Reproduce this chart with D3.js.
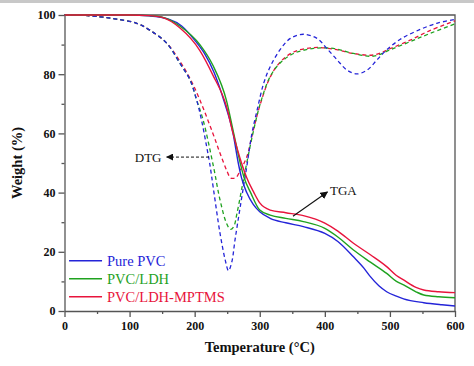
<!DOCTYPE html>
<html>
<head>
<script src="https://d3js.org/d3.v7.min.js"></script>
<style>
  body { margin: 0; background: #fff; }
  .axis text { font-family: "Liberation Serif", serif; font-weight: bold; font-size: 12px; fill: #111; }
  .axis path, .axis line { stroke: #555; stroke-width: 1.3px; }
</style>
</head>
<body>
<svg width="474" height="366"></svg>
<script>
// TGA curves (weight % vs temperature)
var tgaPureT = [0,50,100,130,160,180,200,215,230,245,259,267,272,280,290,300,316,340,367,400,420,444,460,470,483,495,510,521,552,580,600];
var tgaPureW = [100,100,100,99.7,98.6,96.3,91.5,87,80.5,71,60,50,45,40,36,33.5,31.3,29.8,28.5,26.2,23.5,18.3,14.5,11.6,8.5,6.5,5,4.1,2.8,2.1,1.7];
var tgaLdhT = [0,50,100,130,150,177,208,228,249,260,270,276,286,300,316,340,367,400,420,444,470,495,510,521,540,552,575,600];
var tgaLdhW = [100,100,100,99.8,99.3,96.3,90,83,71,60,50,45,40,34.1,32.4,31.3,30.2,27.9,25,20.6,16.5,12.7,10,8.8,6.5,5.4,4.8,4.5];
var tgaMpT = [0,50,100,130,150,177,208,228,249,259,272,280,291,300,316,340,367,400,420,444,470,495,510,521,540,552,575,600];
var tgaMpW = [100,100,100,99.8,99.2,95.7,88,79.7,69,60,50,45,40,36.5,34.1,33.2,32.2,29.7,27,22.9,19,15,12,10.5,8,7.1,6.5,6.2];

// DTG curves (dashed)
var dtgPureT = [0,20,54,80,111,131,157,177,193,203,211,218,223,229,239,247,252,257,262,270,280,288,296,306,316,331,347,367,388,403,419,434,449,465,480,495,516,541,572,600];
var dtgPureW = [100,100,99.4,98.6,97.2,94.9,90.5,83.8,78,71.3,64,56,50,41,26.2,17.2,13.6,16.5,24,35.2,48.7,60,67.9,76.9,82.5,88.2,92.1,93.5,92.1,88.7,84.8,81.4,80.1,81.4,84.8,88.2,91.8,94.6,97.2,98.5];
var dtgLdhT = [0,20,54,80,111,131,157,177,193,203,213,229,239,249,255,260,265,272,280,290,301,316,331,352,383,413,444,475,500,531,562,600];
var dtgLdhW = [100,100,99.4,98.6,97.2,94.9,90.5,83.8,78,71.3,64.5,48.7,37.5,29.6,27.6,28.5,33,40.9,50,60.5,70.2,79.2,83.7,87,88.7,88.7,87,86.1,88.2,91,93.8,97];
var dtgMpT = [0,20,54,80,111,131,157,177,193,208,228,239,249,255,259,264,270,280,290,301,316,331,352,383,413,444,475,500,531,562,600];
var dtgMpW = [100,100,99.4,98.6,97.2,94.9,90.5,84.5,78.5,71.3,60,53.3,47.6,45,44.8,45.2,47.5,52,61,70,79,84,87.5,89,88.5,87,86.5,88.6,91.5,94.8,98];

var xTicks = [0,100,200,300,400,500,600];
var yTicks = [0,20,40,60,80,100];
var seriesNames = ["Pure PVC", "PVC/LDH", "PVC/LDH-MPTMS"];
var colors = ["#2424d8", "#1fa21f", "#e8143c"];

var svg = d3.select("svg"),
  margin = {top: 15, right: 19, bottom: 55, left: 64.5},
  width = +svg.attr("width") - margin.left - margin.right,
  height = +svg.attr("height") - margin.top - margin.bottom;

// light grey strip at top of the picture
svg.append("rect").attr("x", 0).attr("y", 0).attr("width", 474).attr("height", 3).attr("fill", "#c8c8c8");

var x = d3.scaleLinear().domain([0, 600]).range([0, width]),
  y = d3.scaleLinear().domain([0, 100]).range([height, 0]);

var g = svg.append("g").attr("transform", "translate(" + margin.left + "," + margin.top + ")");

// minor ticks
g.append("g").attr("class", "axis")
  .attr("transform", "translate(0," + height + ")")
  .call(d3.axisBottom(x).tickValues(d3.range(50, 600, 100)).tickSize(3).tickFormat(""))
  .select(".domain").remove();
g.append("g").attr("class", "axis")
  .call(d3.axisLeft(y).tickValues(d3.range(10, 100, 20)).tickSize(3).tickFormat(""))
  .select(".domain").remove();

g.append("g").attr("class", "axis")
  .attr("transform", "translate(0," + height + ")")
  .call(d3.axisBottom(x).tickValues(xTicks).tickSize(6).tickPadding(4).tickSizeOuter(0));
g.append("g").attr("class", "axis")
  .call(d3.axisLeft(y).tickValues(yTicks).tickSize(6).tickPadding(3).tickSizeOuter(0));

// frame top / right
g.append("path")
  .attr("d", "M0,0H" + width + "V" + height)
  .attr("fill", "none").attr("stroke", "#555").attr("stroke-width", 1.3);

function pairs(ts, ws) { return ts.map(function(t, i) { return [t, ws[i]]; }); }

var lineMono = d3.line().curve(d3.curveMonotoneX)
  .x(function(d) { return x(d[0]); }).y(function(d) { return y(d[1]); });
var lineSmooth = d3.line().curve(d3.curveCatmullRom.alpha(0.5))
  .x(function(d) { return x(d[0]); }).y(function(d) { return y(d[1]); });

var dtg = [pairs(dtgPureT, dtgPureW), pairs(dtgLdhT, dtgLdhW), pairs(dtgMpT, dtgMpW)];
var tga = [pairs(tgaPureT, tgaPureW), pairs(tgaLdhT, tgaLdhW), pairs(tgaMpT, tgaMpW)];

[2, 1, 0].forEach(function(i) {
  g.append("path").datum(dtg[i])
    .attr("fill", "none").attr("stroke", colors[i]).attr("stroke-width", 1.3)
    .attr("stroke-dasharray", "4,3")
    .attr("d", lineSmooth);
});
[0, 1, 2].forEach(function(i) {
  g.append("path").datum(tga[i])
    .attr("fill", "none").attr("stroke", colors[i]).attr("stroke-width", 1.4)
    .attr("d", lineMono);
});

// arrow markers
var defs = svg.append("defs");
defs.append("marker").attr("id", "head")
  .attr("viewBox", "0 0 10 10").attr("refX", 9).attr("refY", 5)
  .attr("markerWidth", 7).attr("markerHeight", 7).attr("orient", "auto")
  .append("path").attr("d", "M0,0L10,5L0,10z").attr("fill", "#111");

// DTG annotation
g.append("line")
  .attr("x1", x(222)).attr("y1", y(52)).attr("x2", x(157)).attr("y2", y(52))
  .attr("stroke", "#111").attr("stroke-width", 1).attr("stroke-dasharray", "3,2")
  .attr("marker-end", "url(#head)");
g.append("text").attr("x", x(108)).attr("y", y(52)).attr("dy", "0.35em")
  .style("font-family", "Liberation Serif, serif").style("font-size", "13px").attr("fill", "#111")
  .text("DTG");

// TGA annotation
g.append("line")
  .attr("x1", x(351)).attr("y1", y(32)).attr("x2", x(404)).attr("y2", y(40.2))
  .attr("stroke", "#111").attr("stroke-width", 1.1)
  .attr("marker-end", "url(#head)");
g.append("text").attr("x", x(408)).attr("y", y(40.6)).attr("dy", "0.35em")
  .style("font-family", "Liberation Serif, serif").style("font-size", "13px").attr("fill", "#111")
  .text("TGA");

// legend
var legend = g.append("g").attr("transform", "translate(" + x(7) + "," + y(17) + ")");
seriesNames.forEach(function(name, i) {
  var row = legend.append("g").attr("transform", "translate(0," + (i * 18) + ")");
  row.append("line").attr("x1", 0).attr("x2", 33).attr("y1", 0).attr("y2", 0)
    .attr("stroke", colors[i]).attr("stroke-width", 1.4);
  row.append("text").attr("x", 38).attr("dy", "0.35em")
    .style("font-family", "Liberation Serif, serif").style("font-size", "14.5px")
    .attr("fill", colors[i]).text(name);
});

// axis titles
svg.append("text")
  .attr("x", margin.left + width / 2).attr("y", 352)
  .attr("text-anchor", "middle")
  .style("font-family", "Liberation Serif, serif").style("font-weight", "bold").style("font-size", "14.5px")
  .attr("fill", "#111").text("Temperature (°C)");
svg.append("text")
  .attr("transform", "translate(22," + (margin.top + height / 2) + ") rotate(-90)")
  .attr("text-anchor", "middle")
  .style("font-family", "Liberation Serif, serif").style("font-weight", "bold").style("font-size", "14.5px")
  .attr("fill", "#111").text("Weight (%)");
</script>
</body>
</html>
